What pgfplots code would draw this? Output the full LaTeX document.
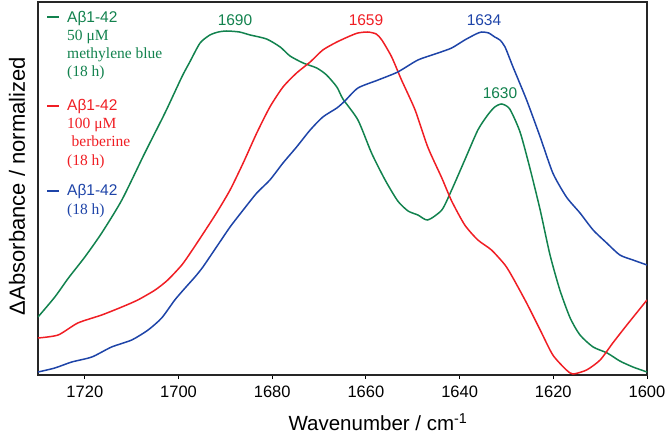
\documentclass[border=0pt]{standalone}
\usepackage{pgfplots}
\pgfplotsset{compat=1.18}
\usepackage{fontspec}
\setmainfont{Liberation Sans}
\newfontfamily\seriffont{Liberation Serif}
\definecolor{cgreen}{RGB}{18,130,78}
\definecolor{cred}{RGB}{240,30,36}
\definecolor{cblue}{RGB}{30,68,168}
\begin{document}
\begin{tikzpicture}
\useasboundingbox (0,0) rectangle (666bp,436bp);
\begin{axis}[
  at={(38bp,61bp)}, anchor=south west,
  scale only axis, width=609bp, height=373bp,
  xmin=1600, xmax=1730, ymin=0, ymax=373,
  x dir=reverse,
  xtick={1600,1620,...,1720},
  ytick=\empty,
  xtick pos=bottom, tick align=outside,
  major tick length=4bp,
  tick style={line width=1bp, black},
  axis line style={line width=1.3bp, black!85},
  /pgf/number format/1000 sep={},
  /pgf/number format/assume math mode=true,
  xticklabel style={font=\fontsize{16.5bp}{19bp}\selectfont, yshift=-3bp},
  every axis plot/.append style={line width=1.5bp, smooth, tension=0.4, no markers},
]
% methylene blue (green)
\addplot[cgreen] coordinates {
(1730,58) (1726.4,78) (1723.5,97) (1720,118) (1716.4,142) (1712.1,175) (1707.2,222)
(1702.9,262) (1699.3,298) (1697.6,313) (1695.4,332) (1693.3,340) (1691.5,343) (1689.7,344)
(1687,343) (1684.7,340) (1681.2,336) (1678.3,328) (1676.2,319) (1673.4,312) (1670.5,307)
(1668.4,300) (1666.2,288) (1664.9,276) (1661.7,255) (1658.8,222) (1655.9,195) (1653.2,174)
(1651,164) (1648.9,160) (1646.8,155) (1643.8,165) (1641.7,185) (1638.9,215) (1636.1,245)
(1634,260) (1632.5,268) (1631,271) (1629.3,266) (1627.1,243) (1625,207) (1622.8,165)
(1620.7,120) (1618.6,85) (1616.4,57) (1614.3,40) (1611.5,28) (1608.5,22) (1605.8,14)
(1603,8) (1600,3)
};
% berberine (red)
\addplot[cred] coordinates {
(1730,37) (1725.7,40) (1721.5,52) (1716.4,60) (1712.1,68) (1708.7,75) (1705,85)
(1702.3,95) (1699.3,110) (1697.2,124) (1694.8,141) (1691.9,162) (1689,185) (1686.2,212)
(1683.3,242) (1680.5,268) (1677.7,288) (1674.8,302) (1671.9,313) (1669.2,325) (1666.2,333)
(1663.4,339) (1661.7,342) (1659.6,343) (1657.8,341) (1656.6,335) (1654.5,318) (1652.4,295)
(1649.5,265) (1646.8,228) (1643.8,197) (1641.7,174) (1638.9,150) (1636.1,135) (1633.2,125)
(1630.3,110) (1628.6,97) (1625.7,72) (1622.8,45) (1620.1,20) (1617.2,5) (1615.8,1)
(1612.9,5) (1610,15) (1607.3,32) (1604.3,50) (1600,75)
};
% control (blue)
\addplot[cblue] coordinates {
(1730,3) (1726.4,7) (1722.8,13) (1718.5,18) (1714.3,28) (1710,35) (1706.5,45)
(1703.6,57) (1700.8,75) (1698.6,87) (1696.5,98) (1694.8,108) (1691.9,128) (1689,148)
(1686.2,165) (1683.3,182) (1680.5,195) (1677.7,212) (1674.8,228) (1671.9,245) (1669.2,258)
(1666.2,267) (1664.5,274) (1661.7,287) (1657.4,295) (1653.2,303) (1648.9,315) (1644.6,322)
(1641.7,327) (1638.9,335) (1636.5,341) (1635.3,343) (1633.8,342) (1632.5,338) (1631.4,335)
(1630.3,328) (1628.6,308) (1625.7,275) (1622.8,238) (1620.1,202) (1617.2,178) (1614.3,162)
(1611.5,145) (1608.6,132) (1605.8,120) (1603,115) (1600,110)
};
\end{axis}
\begin{scope}[x=1bp,y=-1bp,yshift=436bp]
% axis labels
\node[rotate=90, font=\fontsize{22bp}{26bp}\selectfont] at (17,186) {ΔAbsorbance / normalized};
\node[anchor=base, inner sep=0pt, font=\fontsize{20.5bp}{24bp}\selectfont] at (378,431) {Wavenumber / cm\textsuperscript{-1}};
% peak labels
\begin{scope}[every node/.style={font=\fontsize{15.5bp}{18bp}\selectfont, inner sep=0pt}]
\node[text=cgreen] at (235,20) {1690};
\node[text=cred] at (366,20) {1659};
\node[text=cblue] at (484,20) {1634};
\node[text=cgreen] at (500,93.5) {1630};
\end{scope}
% legend
\draw[cgreen, line width=2bp] (47,17) -- (59,17);
\draw[cred, line width=2bp] (47,106.5) -- (59,106.5);
\draw[cblue, line width=2bp] (47,191.5) -- (59,191.5);
\begin{scope}[every node/.style={anchor=base west, inner sep=0pt, font=\fontsize{15.5bp}{18bp}\selectfont}]
\node[text=cgreen] at (67,22.5) {Aβ1-42};
\node[text=cgreen] at (67,40.5) {\seriffont 50 μM};
\node[text=cgreen] at (67,59) {\seriffont methylene blue};
\node[text=cgreen] at (67,77) {\seriffont (18 h)};
\node[text=cred] at (67,110.5) {Aβ1-42};
\node[text=cred] at (67,128.5) {\seriffont 100 μM};
\node[text=cred] at (71.5,147) {\seriffont berberine};
\node[text=cred] at (67,166) {\seriffont (18 h)};
\node[text=cblue] at (67,195.5) {Aβ1-42};
\node[text=cblue] at (67,215) {\seriffont (18 h)};
\end{scope}
\end{scope}
\end{tikzpicture}
\end{document}
